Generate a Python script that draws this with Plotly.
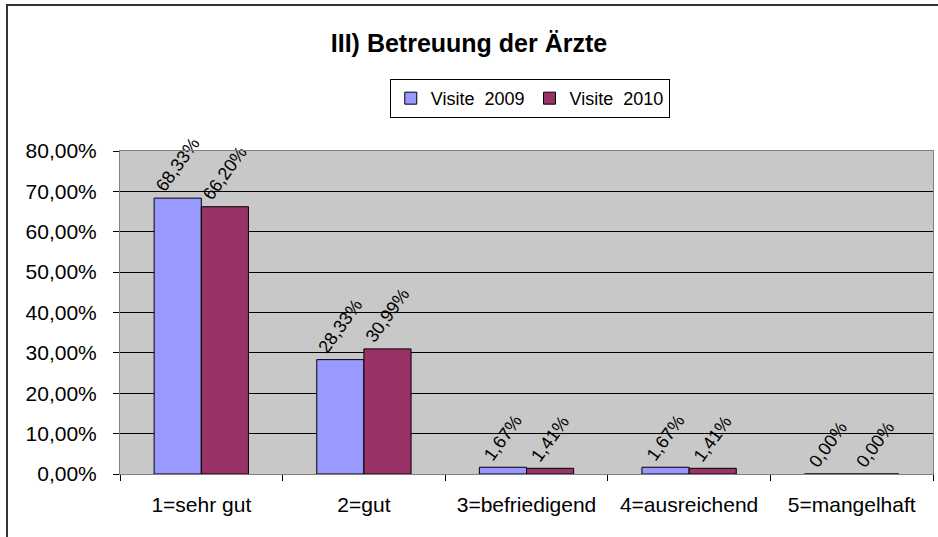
import plotly.graph_objects as go

categories = ["1=sehr gut", "2=gut", "3=befriedigend", "4=ausreichend", "5=mangelhaft"]
visite_2009 = [68.33, 28.33, 1.67, 1.67, 0.00]
visite_2010 = [66.20, 30.99, 1.41, 1.41, 0.00]
series_names = ["Visite  2009", "Visite  2010"]
colors = ["#9999FF", "#993366"]

def fmt(v):
    return f"{v:.2f}".replace(".", ",") + "%"

fig = go.Figure()
for name, vals, col in zip(series_names, [visite_2009, visite_2010], colors):
    fig.add_trace(go.Bar(
        x=categories, y=[v / 100 for v in vals], name=name,
        marker=dict(color=col, line=dict(color="#000000", width=1)),
        text=[fmt(v) for v in vals], textposition="outside", textangle=-54,
        constraintext="none",
        textfont=dict(family="Liberation Sans, Arial", size=18, color="#000000"),
        cliponaxis=False,
    ))

fig.update_layout(
    width=938, height=537,
    margin=dict(l=120, r=5, t=151, b=63),
    paper_bgcolor="#FFFFFF", plot_bgcolor="#C8C8C8",
    barmode="group", bargap=0.42, bargroupgap=0,
    separators=",.",
    font=dict(family="Liberation Sans, Arial", size=21, color="#000000"),
    title=dict(text="<b>III) Betreuung der Ärzte</b>", x=0.5, xref="container",
               y=1 - 43 / 537, yref="container", yanchor="middle",
               font=dict(size=25, family="Liberation Sans, Arial")),
    legend=dict(orientation="h", x=0.504, xanchor="center", y=1.223, yanchor="top",
                bordercolor="#000000", borderwidth=1, bgcolor="#FFFFFF",
                font=dict(size=18), itemwidth=30, tracegroupgap=0),
    xaxis=dict(showline=True, linecolor="#808080", linewidth=1, mirror=True,
               ticks="outside", tickson="boundaries", ticklen=6, tickcolor="#000000",
               ticklabelstandoff=12, showgrid=False),
    yaxis=dict(range=[0, 0.8], dtick=0.1, tickformat=".2%", showline=True,
               linecolor="#808080", linewidth=1, mirror=True,
               ticks="outside", ticklen=6, tickcolor="#000000", ticklabelstandoff=12,
               showgrid=True, gridcolor="#000000", gridwidth=1, zeroline=False),
    shapes=[dict(type="rect", xref="paper", yref="paper",
                 x0=(7 - 120) / 813, x1=1.02, y0=-0.3, y1=(474 - 5) / 323,
                 line=dict(color="#333333", width=2), layer="below")],
)

fig.write_html("out.html", config={"displayModeBar": False},
               post_script="document.body.style.margin='0';")
